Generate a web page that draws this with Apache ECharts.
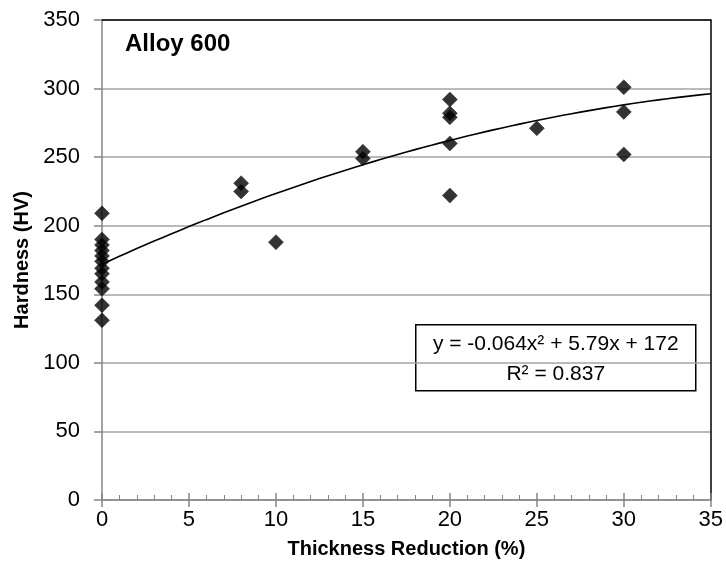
<!DOCTYPE html>
<html>
<head>
<meta charset="utf-8">
<script src="https://cdn.jsdelivr.net/npm/echarts@6/dist/echarts.min.js"></script>
<style>
  html, body { margin: 0; padding: 0; background: #fff; }
  #chart { width: 726px; height: 582px; }
</style>
</head>
<body>
<div id="chart"></div>
<script>
// Hardness measurements vs. thickness reduction, Alloy 600
const reduction = [
  0, 0, 0, 0, 0, 0, 0, 0, 0, 0, 0, 0,
  8, 8, 10,
  15, 15,
  20, 20, 20, 20, 20,
  25,
  30, 30, 30
];
const hardness = [
  209, 190, 186, 182, 178, 174, 169, 165, 159, 154, 142, 131,
  231, 225, 188,
  254, 249,
  292, 282, 279, 260, 222,
  271,
  301, 283, 252
];
// Polynomial trendline coefficients: a*x^2 + b*x + c
const trendCoef = [-0.064, 5.79, 172];
const trendRange = [0, 35];
const xTicks = [0, 35, 5];
const yTicks = [0, 350, 50];

const FONT = 'Liberation Sans, Arial, sans-serif';

const points = reduction.map((x, i) => [x, hardness[i]]);
const trend = [];
for (let x = trendRange[0]; x <= trendRange[1] + 1e-9; x += 0.5) {
  trend.push([x, trendCoef[0] * x * x + trendCoef[1] * x + trendCoef[2]]);
}

const chart = echarts.init(document.getElementById('chart'), null, { renderer: 'canvas' });

const axisGray = '#868686';
const gridGray = '#a3a3a3';

chart.setOption({
  animation: false,
  backgroundColor: '#fff',
  grid: { left: 102, right: 12, top: 20, bottom: 82, containLabel: false },
  xAxis: [
    {
      type: 'value', position: 'bottom',
      min: xTicks[0], max: xTicks[1], interval: xTicks[2],
      name: 'Thickness Reduction (%)', nameLocation: 'middle', nameGap: 39,
      nameTextStyle: { fontFamily: FONT, fontSize: 20, fontWeight: 'bold', color: '#000' },
      axisLine: { show: true, onZero: false, lineStyle: { color: axisGray, width: 1.5 } },
      axisTick: { show: true, inside: true, length: 7, lineStyle: { color: axisGray, width: 1.5 } },
      minorTick: { show: true, splitNumber: 5, length: 5, lineStyle: { color: axisGray, width: 1 } },
      axisLabel: { fontFamily: FONT, fontSize: 22, color: '#000', margin: 9 },
      splitLine: { show: false }
    },
    {
      type: 'value', position: 'bottom',
      min: xTicks[0], max: xTicks[1], interval: xTicks[2],
      axisLine: { show: false, onZero: false },
      axisTick: { show: true, inside: false, length: 7, lineStyle: { color: axisGray, width: 1.5 } },
      axisLabel: { show: false },
      splitLine: { show: false }
    },
    {
      type: 'value', position: 'top',
      min: xTicks[0], max: xTicks[1],
      axisLine: { show: true, onZero: false, lineStyle: { color: '#000', width: 1.5 } },
      axisTick: { show: false }, axisLabel: { show: false }, splitLine: { show: false }
    }
  ],
  yAxis: [
    {
      type: 'value', position: 'left',
      min: yTicks[0], max: yTicks[1], interval: yTicks[2],
      name: 'Hardness (HV)', nameLocation: 'middle', nameGap: 68,
      nameTextStyle: { fontFamily: FONT, fontSize: 20, fontWeight: 'bold', color: '#000' },
      axisLine: { show: true, onZero: false, lineStyle: { color: axisGray, width: 1.5 } },
      axisTick: { show: true, inside: false, length: 8, lineStyle: { color: axisGray, width: 1.5 } },
      axisLabel: { fontFamily: FONT, fontSize: 22, color: '#000', margin: 22 },
      splitLine: { show: true, lineStyle: { color: gridGray, width: 1.5 } }
    },
    {
      type: 'value', position: 'right',
      min: yTicks[0], max: yTicks[1],
      axisLine: { show: true, onZero: false, lineStyle: { color: '#000', width: 1.5 } },
      axisTick: { show: false }, axisLabel: { show: false }, splitLine: { show: false }
    }
  ],
  series: [
    {
      type: 'line', name: 'trend',
      xAxisIndex: 0, yAxisIndex: 0,
      data: trend, showSymbol: false, smooth: false,
      lineStyle: { color: '#000', width: 1.6 },
      z: 3
    },
    {
      type: 'scatter', name: 'Alloy 600',
      xAxisIndex: 0, yAxisIndex: 0,
      data: points, symbol: 'diamond', symbolSize: 15,
      itemStyle: { color: '#000', borderColor: '#222', borderWidth: 0.6 },
      clip: false,
      z: 4
    }
  ],
  graphic: [
    {
      type: 'text', left: 125, top: 32, z: 10,
      style: { text: 'Alloy 600', fontFamily: FONT, fontSize: 24, fontWeight: 'bold', fill: '#000' }
    },
    {
      type: 'group', left: 415, top: 324, z: 10,
      children: [
        {
          type: 'rect', shape: { x: 0, y: 0, width: 280, height: 66 },
          style: { fill: '#fff', stroke: '#000', lineWidth: 1.5 }
        },
        {
          type: 'text', x: 140, y: 19,
          style: { text: 'y = -0.064x² + 5.79x + 172', fontFamily: FONT, fontSize: 21, fill: '#000', align: 'center', verticalAlign: 'middle' }
        },
        {
          type: 'text', x: 140, y: 49,
          style: { text: 'R² = 0.837', fontFamily: FONT, fontSize: 21, fill: '#000', align: 'center', verticalAlign: 'middle' }
        }
      ]
    }
  ]
});
</script>
</body>
</html>
